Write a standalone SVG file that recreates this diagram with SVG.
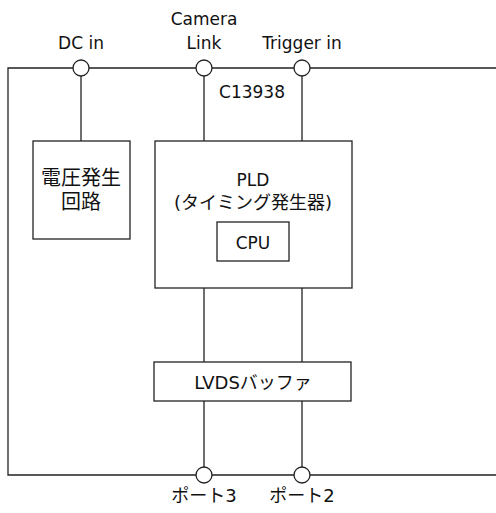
<svg xmlns="http://www.w3.org/2000/svg" width="496" height="513" viewBox="0 0 496 513">
<style>
.ln{fill:none;stroke:#222;stroke-width:1.3}
.bx{fill:#fff;stroke:#222;stroke-width:1.3}
.pt{fill:#fff;stroke:#222;stroke-width:1.3}
text{font-family:"DejaVu Sans","Noto Sans CJK JP",sans-serif;font-size:17px;fill:#111;text-anchor:middle}
.m{font-size:18px}
.j{font-size:20px}
</style>
<rect width="496" height="513" fill="#fff"/>
<g id="connectors">
<path class="ln" d="M496,68 H8 V475 H496"/>
<path class="ln" d="M81,76 V141"/>
<path class="ln" d="M204,76 V141 M302,76 V141"/>
<path class="ln" d="M204,288 V362 M302,288 V362"/>
<path class="ln" d="M204,401 V467 M302,401 V467"/>
</g>
<g id="dcin"><circle class="pt" cx="81" cy="68" r="8"/><text x="81" y="49">DC in</text></g>
<g id="cameralink"><circle class="pt" cx="204" cy="68" r="8"/><text x="204" y="25">Camera</text><text x="204" y="49">Link</text></g>
<g id="triggerin"><circle class="pt" cx="302" cy="68" r="8"/><text x="302" y="49">Trigger in</text></g>
<g id="label"><text x="252" y="98">C13938</text></g>
<g id="voltage"><rect class="bx" x="33" y="141" width="97" height="98"/><text class="j" x="81" y="185">電圧発生</text><text class="j" x="81" y="209">回路</text></g>
<g id="pld"><rect class="bx" x="155" y="141" width="197" height="147"/><text x="253" y="186">PLD</text><text class="m" x="253" y="209">(タイミング発生器)</text></g>
<g id="cpu"><rect class="bx" x="217" y="222" width="72" height="39"/><text x="253" y="249">CPU</text></g>
<g id="lvds"><rect class="bx" x="154" y="362" width="197" height="39"/><text class="m" x="253" y="389">LVDSバッファ</text></g>
<g id="port3"><circle class="pt" cx="204" cy="475" r="8"/><text class="m" x="204" y="502">ポート3</text></g>
<g id="port2"><circle class="pt" cx="302" cy="475" r="8"/><text class="m" x="302" y="502">ポート2</text></g>
</svg>
